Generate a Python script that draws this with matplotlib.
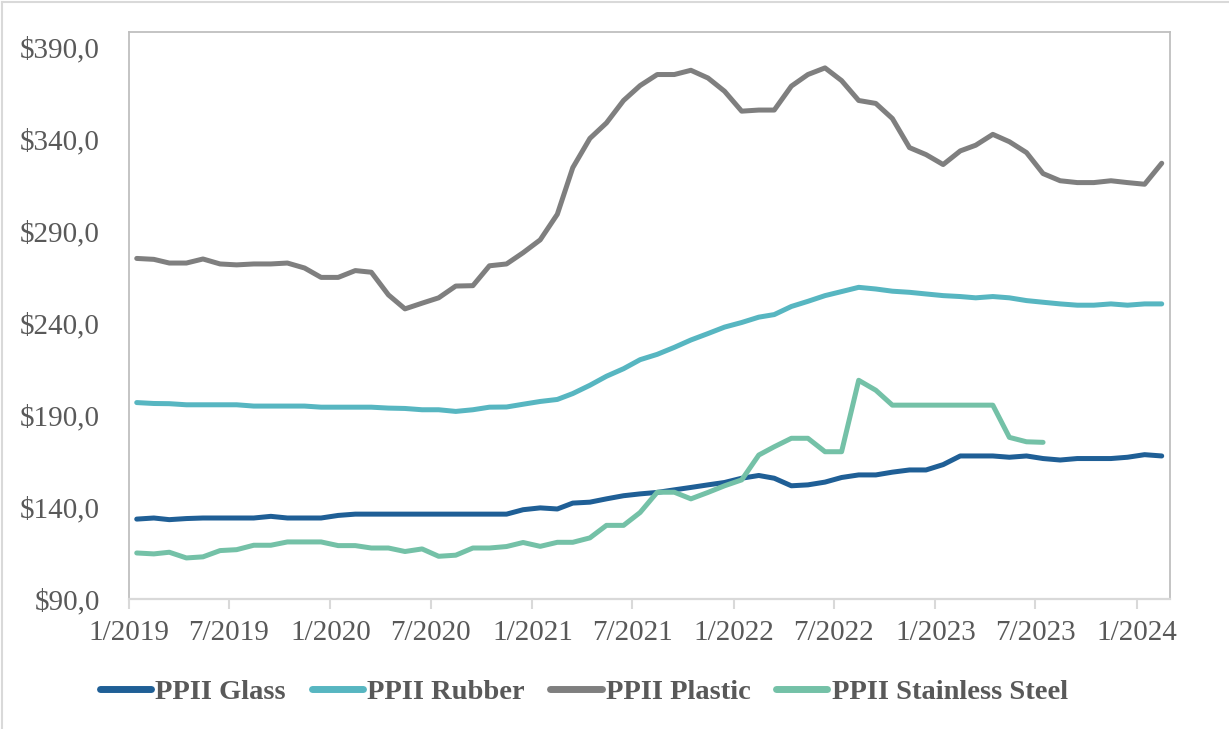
import numpy as np
import pandas as pd
import matplotlib
matplotlib.use("Agg")
import matplotlib.pyplot as plt
from matplotlib.ticker import FuncFormatter
from matplotlib.lines import Line2D

# Monthly producer price index values, Jan 2019 onwards
glass = [133.4, 134.0, 133.1, 133.7, 134.0, 134.0, 134.0, 134.0, 134.9, 134.0,
         134.0, 134.0, 135.4, 136.1, 136.1, 136.1, 136.1, 136.1, 136.1, 136.1,
         136.1, 136.1, 136.1, 138.5, 139.5, 138.9, 142.1, 142.6, 144.4, 146.1,
         147.1, 147.9, 149.3, 150.6, 152.0, 153.3, 155.6, 157.1, 155.6, 151.5,
         152.0, 153.5, 156.0, 157.4, 157.4, 158.9, 160.1, 160.1, 163.0, 167.7,
         167.7, 167.7, 167.0, 167.7, 166.3, 165.5, 166.3, 166.3, 166.3, 167.0,
         168.4, 167.7]

rubber = [196.7, 196.2, 196.1, 195.5, 195.5, 195.5, 195.5, 194.8, 194.8, 194.8,
          194.8, 194.2, 194.2, 194.2, 194.2, 193.7, 193.5, 192.8, 192.8, 191.9,
          192.8, 194.2, 194.3, 195.8, 197.3, 198.4, 201.6, 206.1, 211.0, 215.1,
          220.0, 222.9, 226.7, 230.7, 234.2, 237.7, 240.2, 243.1, 244.5, 248.9,
          251.7, 254.8, 257.0, 259.3, 258.4, 257.2, 256.6, 255.7, 254.8, 254.3,
          253.6, 254.3, 253.6, 252.1, 251.2, 250.3, 249.6, 249.6, 250.3, 249.6,
          250.3, 250.3]

plastic = [275.0, 274.5, 272.5, 272.5, 274.7, 272.0, 271.5, 272.0, 272.0, 272.5,
           269.8, 264.7, 264.7, 268.4, 267.5, 255.2, 247.6, 250.7, 253.6, 260.0,
           260.2, 271.0, 272.0, 278.1, 285.1, 299.0, 324.3, 340.2, 348.6, 360.8,
           368.9, 374.9, 374.9, 377.2, 373.0, 365.8, 355.0, 355.6, 355.6, 368.6,
           374.9, 378.5, 371.6, 360.8, 359.2, 351.0, 335.2, 331.4, 326.0, 333.4,
           336.5, 342.4, 338.4, 332.5, 321.1, 317.2, 316.2, 316.2, 317.2, 316.2,
           315.3, 326.7]

stainless_steel = [115.0, 114.5, 115.4, 112.3, 112.9, 116.3, 116.8, 119.2, 119.2, 121.0,
                   121.0, 121.0, 119.0, 119.0, 117.7, 117.7, 115.8, 117.2, 113.2, 113.8,
                   117.7, 117.7, 118.5, 120.7, 118.6, 120.8, 120.8, 123.2, 130.0, 130.0,
                   137.0, 148.0, 148.0, 144.4, 147.9, 151.5, 154.7, 168.2, 172.7, 177.3,
                   177.3, 170.0, 170.0, 208.8, 203.4, 195.3, 195.3, 195.3, 195.3, 195.3,
                   195.3, 195.3, 177.8, 175.4, 175.1]

series_names = ["PPII Glass", "PPII Rubber", "PPII Plastic", "PPII Stainless Steel"]
series_colors = ["#1f5f96", "#57b6c1", "#7f7f7f", "#74c1a7"]
y_ticks = [90, 140, 190, 240, 290, 340, 390]

# Mid-month observation dates
dates = pd.date_range("2019-01-01", periods=len(glass), freq="MS") + pd.Timedelta(days=14)
tick_dates = pd.date_range("2019-01-01", "2024-01-01", freq="6MS")

plt.rcParams["font.family"] = ["Liberation Serif", "DejaVu Serif"]

fig = plt.figure(figsize=(12.29, 7.29), dpi=100)
ax = fig.add_axes([129 / 1229, 1 - 599 / 729, (1170 - 129) / 1229, (599 - 32) / 729])

all_series = [glass, rubber, plastic, stainless_steel]
for vals, name, col in zip(all_series, series_names, series_colors):
    ax.plot(dates[:len(vals)], vals, color=col, lw=3.6, solid_joinstyle="round",
            solid_capstyle="round", label=name)

ax.set_xlim(pd.Timestamp("2019-01-01"), pd.Timestamp("2024-03-01"))
ax.set_ylim(90, 398)
ax.set_yticks(y_ticks)
ax.yaxis.set_major_formatter(FuncFormatter(lambda v, p: f"${v:.1f}".replace(".", ",")))
ax.set_xticks(tick_dates)
ax.set_xticklabels([f"{d.month}/{d.year}" for d in tick_dates])

ax.tick_params(axis="x", direction="out", length=7, width=1.5, color="#d9d9d9",
               labelsize=21, labelcolor="#595959", pad=8)
ax.tick_params(axis="y", length=0, labelsize=21, labelcolor="#595959", pad=21)

for side in ["left", "top", "right"]:
    ax.spines[side].set_color("#bfbfbf")
    ax.spines[side].set_linewidth(1.3)
ax.spines["bottom"].set_color("#d9d9d9")
ax.spines["bottom"].set_linewidth(1.6)

handles = [Line2D([0], [0], color=c, lw=5, solid_capstyle="round") for c in series_colors]
leg = fig.legend(handles, series_names, loc="center", bbox_to_anchor=(0.475, 0.051),
                 ncol=4, frameon=False, handlelength=1.8, handletextpad=0.15,
                 columnspacing=0.9, prop={"size": 20.5, "weight": "bold"})
for t in leg.get_texts():
    t.set_color("#595959")

# Light outer chart border
fig.add_artist(Line2D([2 / 1229, 2 / 1229], [0, 1 - 2 / 729], transform=fig.transFigure,
                      color="#d9d9d9", lw=1.5))
fig.add_artist(Line2D([2 / 1229, 1], [1 - 2 / 729, 1 - 2 / 729], transform=fig.transFigure,
                      color="#d9d9d9", lw=1.5))

fig.savefig("out.png", dpi=100)
